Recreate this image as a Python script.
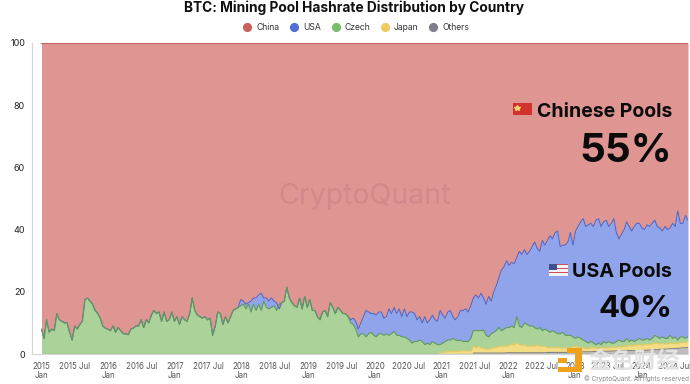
import numpy as np, pandas as pd, matplotlib
matplotlib.use("Agg")
import matplotlib.pyplot as plt, seaborn as sns
from matplotlib.lines import Line2D
from matplotlib.patches import Rectangle

title = "BTC: Mining Pool Hashrate Distribution by Country"
names = ["Others", "Japan", "Czech", "USA", "China"]
# upper edge of each stacked band, percent, one reading every two weeks
czech_top = [
 8,5,11,7,8,7.5,13,11,10.5,10,10,7,4.5,9,8,9.5,10.5,17.5,18,17,16,14,13,11.5,9,8.3,
 8,7.5,9,7,8.5,7.5,6.5,6.5,6.2,8,8.3,9,9,11,8.5,11,10,12.5,14,13,13.5,10.5,13.5,10.5,11,13.5,
 10.5,12,9.5,12,11,10.5,13,18,14,12.5,12,11.5,12,11,11.5,6,9,13.5,13,9.5,12,10,12,14,14.5,15,
 15.5,16,14.5,16,13.5,16,14,16,14,17,15,14.5,15,15.5,14,16,16.5,17,21.5,18,16.5,15.5,15,18,14.5,18.5,
 15,17.5,14,14,12,11,13.5,14,12,16.5,15,13,15,14,13,13,12,10,9.5,8,5.5,6.5,6.5,5.5,6.5,7,
 6,5.5,6.5,6.5,6,6.5,6,6.5,7.3,6,6,5.5,5.5,5,4.5,3.5,4,4,4.5,4,3,3.5,3,4,3.5,3,
 3,3.5,4,4.5,4.5,5,4.5,4.3,4.5,4,4,4,5,7.5,7.5,7.5,7.5,7.7,6,5.5,6.5,7,7.5,8.5,7.5,8,
 8.5,8.5,9,8.5,12,9,8.5,10,9.5,9,9,8.5,8,8.5,7.5,8,7.5,7,7.5,7,6.5,6.5,7,6,6,6,
 5.5,5,5.5,5,4.5,4,3.5,4,3.5,3,3.5,3,4,3.5,4,3.5,3.5,4,4.5,4,4,5,4,4.5,4,4.5,
 5,4.5,4.5,5,4.5,5,6,5.5,5,5.5,5,5,6,5,5.5,4.5,5.5,5.5,5,5.5]
usa_top = list(czech_top[:78]) + [
 17.5,17,16,16.5,17,18,18,19,19.5,18,18,17,18,17,16.5,14.5,16.5,17,21.5,18,16.5,15.5,15,18,14.5,18.5,
 15,17.5,14,14,12,11,13.5,14,12,16.5,15,13,15,14,13,13,12,11,11.5,10.5,8,10,12,14,13.5,13,
 13,12.5,13.5,13.5,11.5,12,14.5,13,15,13,14.5,12,14.5,12,13.5,13.5,13,11,12,10,12,10,11,12.5,11,10.5,
 14,12.5,11.5,13.5,14,12,11,12,14,14,14.5,13.5,15.5,18,19,18,19.5,18,16,18.5,17,20,22,24.5,27,28,
 30,28.5,29.5,29,31,33,32,33.5,32,33,34.5,36,34,33,36.5,35,36.5,38,37,39,39.5,34.5,35,35,36,39,
 35,39.5,41,42.5,43.5,41,41.5,42,41,43,43.5,41,42.5,43,41,42,43.5,39,37,38.5,40,42.5,41,39.5,41,42,
 42,40.5,40,41.5,41,42,43,41,40.5,39.5,41,40,40.5,42,41,46,42,42,44.5,43]
japan_top = [0]*156 + [
 .5,.6,.7,.7,.8,.8,.8,.9,1,1,1,1,.9,2.5,2,2.5,2,1.8,1.5,1.5,1.8,2,2.2,2.5,2.5,2.6,
 2.5,2.8,3,3,3.5,3,2.8,3,2.5,2.5,2.5,2.5,2.8,2.5,2.5,2.5,2,2,2.2,2,2.2,2,2,2,1.8,1.8,
 2.5,2.3,2.2,2,2,1.8,1.8,2,2,2,1.8,2,2,2,2,2.2,2.2,2.2,2.4,2.2,2.5,2.5,2.8,2.6,2.8,2.8,
 3,2.8,3,3.2,3,3.2,3.5,3.4,3.2,3.4,3.2,3.3,3.6,3.3,3.5,3.4,3.6,3.9,3.6,4]
others_top = [0]*169 + [.3]*13 + [
 .4,.4,.4,.4,.4,.4,.4,.4,.4,.4,.4,.4,.4,.4,.4,.4,.5,.5,.5,.5,.5,.5,.5,.5,.5,.5,
 .6,.6,.6,.6,.7,.7,.7,.7,.8,.8,.8,.8,.9,.9,.9,.9,1,1,1,1,1,1.1,1.1,1.1,1.1,1.1,
 1.1,1.1,1.2,1.2,1.3,1.3,1.4,1.4,1.5,1.5,1.6,1.6,1.7,1.7,1.8,1.8,1.9,2,2,2.1]
xtick_dates = pd.date_range("2015-01-01", "2024-07-01", freq="6MS")
ytick_vals = [0, 20, 40, 60, 80, 100]

fills = {"China": "#DF9591", "USA": "#8FA4EA", "Czech": "#ABD399", "Japan": "#F4DC85", "Others": "#BFBDBE"}
lines = {"China": "#C8615D", "USA": "#4F69CC", "Czech": "#5F9C50", "Japan": "#EBC95A", "Others": "#85838A"}
dots = {"China": "#C9615D", "USA": "#4F6FD6", "Czech": "#7DBB69", "Japan": "#EFCC62", "Others": "#7F7F8A"}

dates = pd.date_range("2015-01-01", periods=len(czech_top), freq="14D")
edges = np.array([others_top, japan_top, czech_top, usa_top, [100] * len(czech_top)], dtype=float)
shares = np.diff(np.vstack([np.zeros(len(dates)), edges]), axis=0)
long = pd.DataFrame({"date": np.tile(dates, 5), "top": edges.ravel(), "name": np.repeat(names, len(dates))})

sns.set_theme(style="white")
plt.rcParams["font.family"] = ["Inter", "Noto Sans CJK SC", "DejaVu Sans"]
W, H = 690, 384
fig = plt.figure(figsize=(W / 100, H / 100), dpi=100, facecolor="white")
ax = fig.add_axes([32 / W, (H - 354) / H, (688 - 32) / W, 311 / H], facecolor="white")

ax.stackplot(dates, shares, colors=[fills[n] for n in names], linewidth=0, zorder=1)
for n in names[::-1]:
    active = long[(long.name == n) & (long.top > 0)]
    sns.lineplot(data=active, x="date", y="top", color=lines[n], lw=0.8, ax=ax, legend=False, zorder=2, errorbar=None)
ax.axhline(0, color="#6DAA5C", lw=0.9, zorder=3, xmin=0.015)

days = pd.Timedelta(days=52)
ax.set_xlim(dates[0] - days, dates[-1])
ax.set_ylim(0, 100)
ax.set_xlabel(""); ax.set_ylabel("")
ax.set_yticks(ytick_vals)
ax.set_xticks(xtick_dates)
ax.set_xticklabels([f"{d.year}\nJan" if d.month == 1 else f"{d.year} Jul" for d in xtick_dates],
                   fontsize=5.7, color="#555555", linespacing=1.0, va="top")
ax.tick_params(axis="x", length=0, pad=6)
ax.tick_params(axis="y", length=0, pad=5, labelsize=6.5, labelcolor="#222222")
for side in ["top", "right"]:
    ax.spines[side].set_visible(False)
for side in ["left", "bottom"]:
    ax.spines[side].set_color("#D5D5D5"); ax.spines[side].set_linewidth(0.8)

def txt(x, y, s, **kw):
    kw.setdefault("va", "center")
    return fig.text(x / W, 1 - y / H, s, **kw)

def box(x0, y0, x1, y1, c, z=6, alpha=1):
    fig.add_artist(Rectangle((x0 / W, 1 - y1 / H), (x1 - x0) / W, (y1 - y0) / H,
                             transform=fig.transFigure, fc=c, ec="none", zorder=z, alpha=alpha))

txt(353.5, 8, title, ha="center", fontsize=9.9, fontweight="bold", color="#111111")
handles = [Line2D([], [], ls="", marker="o", ms=5.6, mfc=dots[n], mec=dots[n]) for n in names[::-1]]
fig.legend(handles, names[::-1], loc="center", bbox_to_anchor=(354 / W, 1 - 28 / H), ncols=5, frameon=False,
           fontsize=6.2, handletextpad=0.05, columnspacing=0.7, labelcolor="#333333")

txt(364.5, 197, "CryptoQuant", ha="center", fontsize=20.5, color="#D4888A", zorder=5)
txt(672, 112, "Chinese Pools", ha="right", fontsize=14, fontweight="bold", color="#0B0B0B", zorder=6)
txt(672, 152, "55%", ha="right", fontsize=29, fontweight="bold", color="#0B0B0B", zorder=6)
txt(672, 272, "USA Pools", ha="right", fontsize=14.2, fontweight="bold", color="#0B0B0B", zorder=6)
txt(672, 309, "40%", ha="right", fontsize=22.5, fontweight="bold", color="#0B0B0B", zorder=6)

# China flag
box(513, 103, 532, 115, "#D2322D")
fig.add_artist(Line2D([516.5 / W], [1 - 107.5 / H], marker="*", ms=4, color="#F5D76E", transform=fig.transFigure, zorder=7))
# US flag
box(549, 264, 568, 276, "#F2F2F2")
for k in range(0, 6, 2):
    box(549, 264 + 2 * k, 568, 265 + 2 * k, "#C8505A", z=7)
box(549, 264, 557, 270, "#3F4F8F", z=8)

# site mark, lower right
for b in [(567, 348, 582, 353), (575, 348, 582, 372), (558, 367, 582, 372), (558, 358, 567, 363)]:
    box(*b, "#F0A11B", z=8)
txt(634, 362, "金色财经", ha="center", fontsize=16.5, color="#E2E2E2", zorder=8, fontweight="bold")
txt(689, 379, "© CryptoQuant. All rights reserved", ha="right", fontsize=4.6, color="#888888", zorder=9)

fig.savefig("out.png", dpi=100)
